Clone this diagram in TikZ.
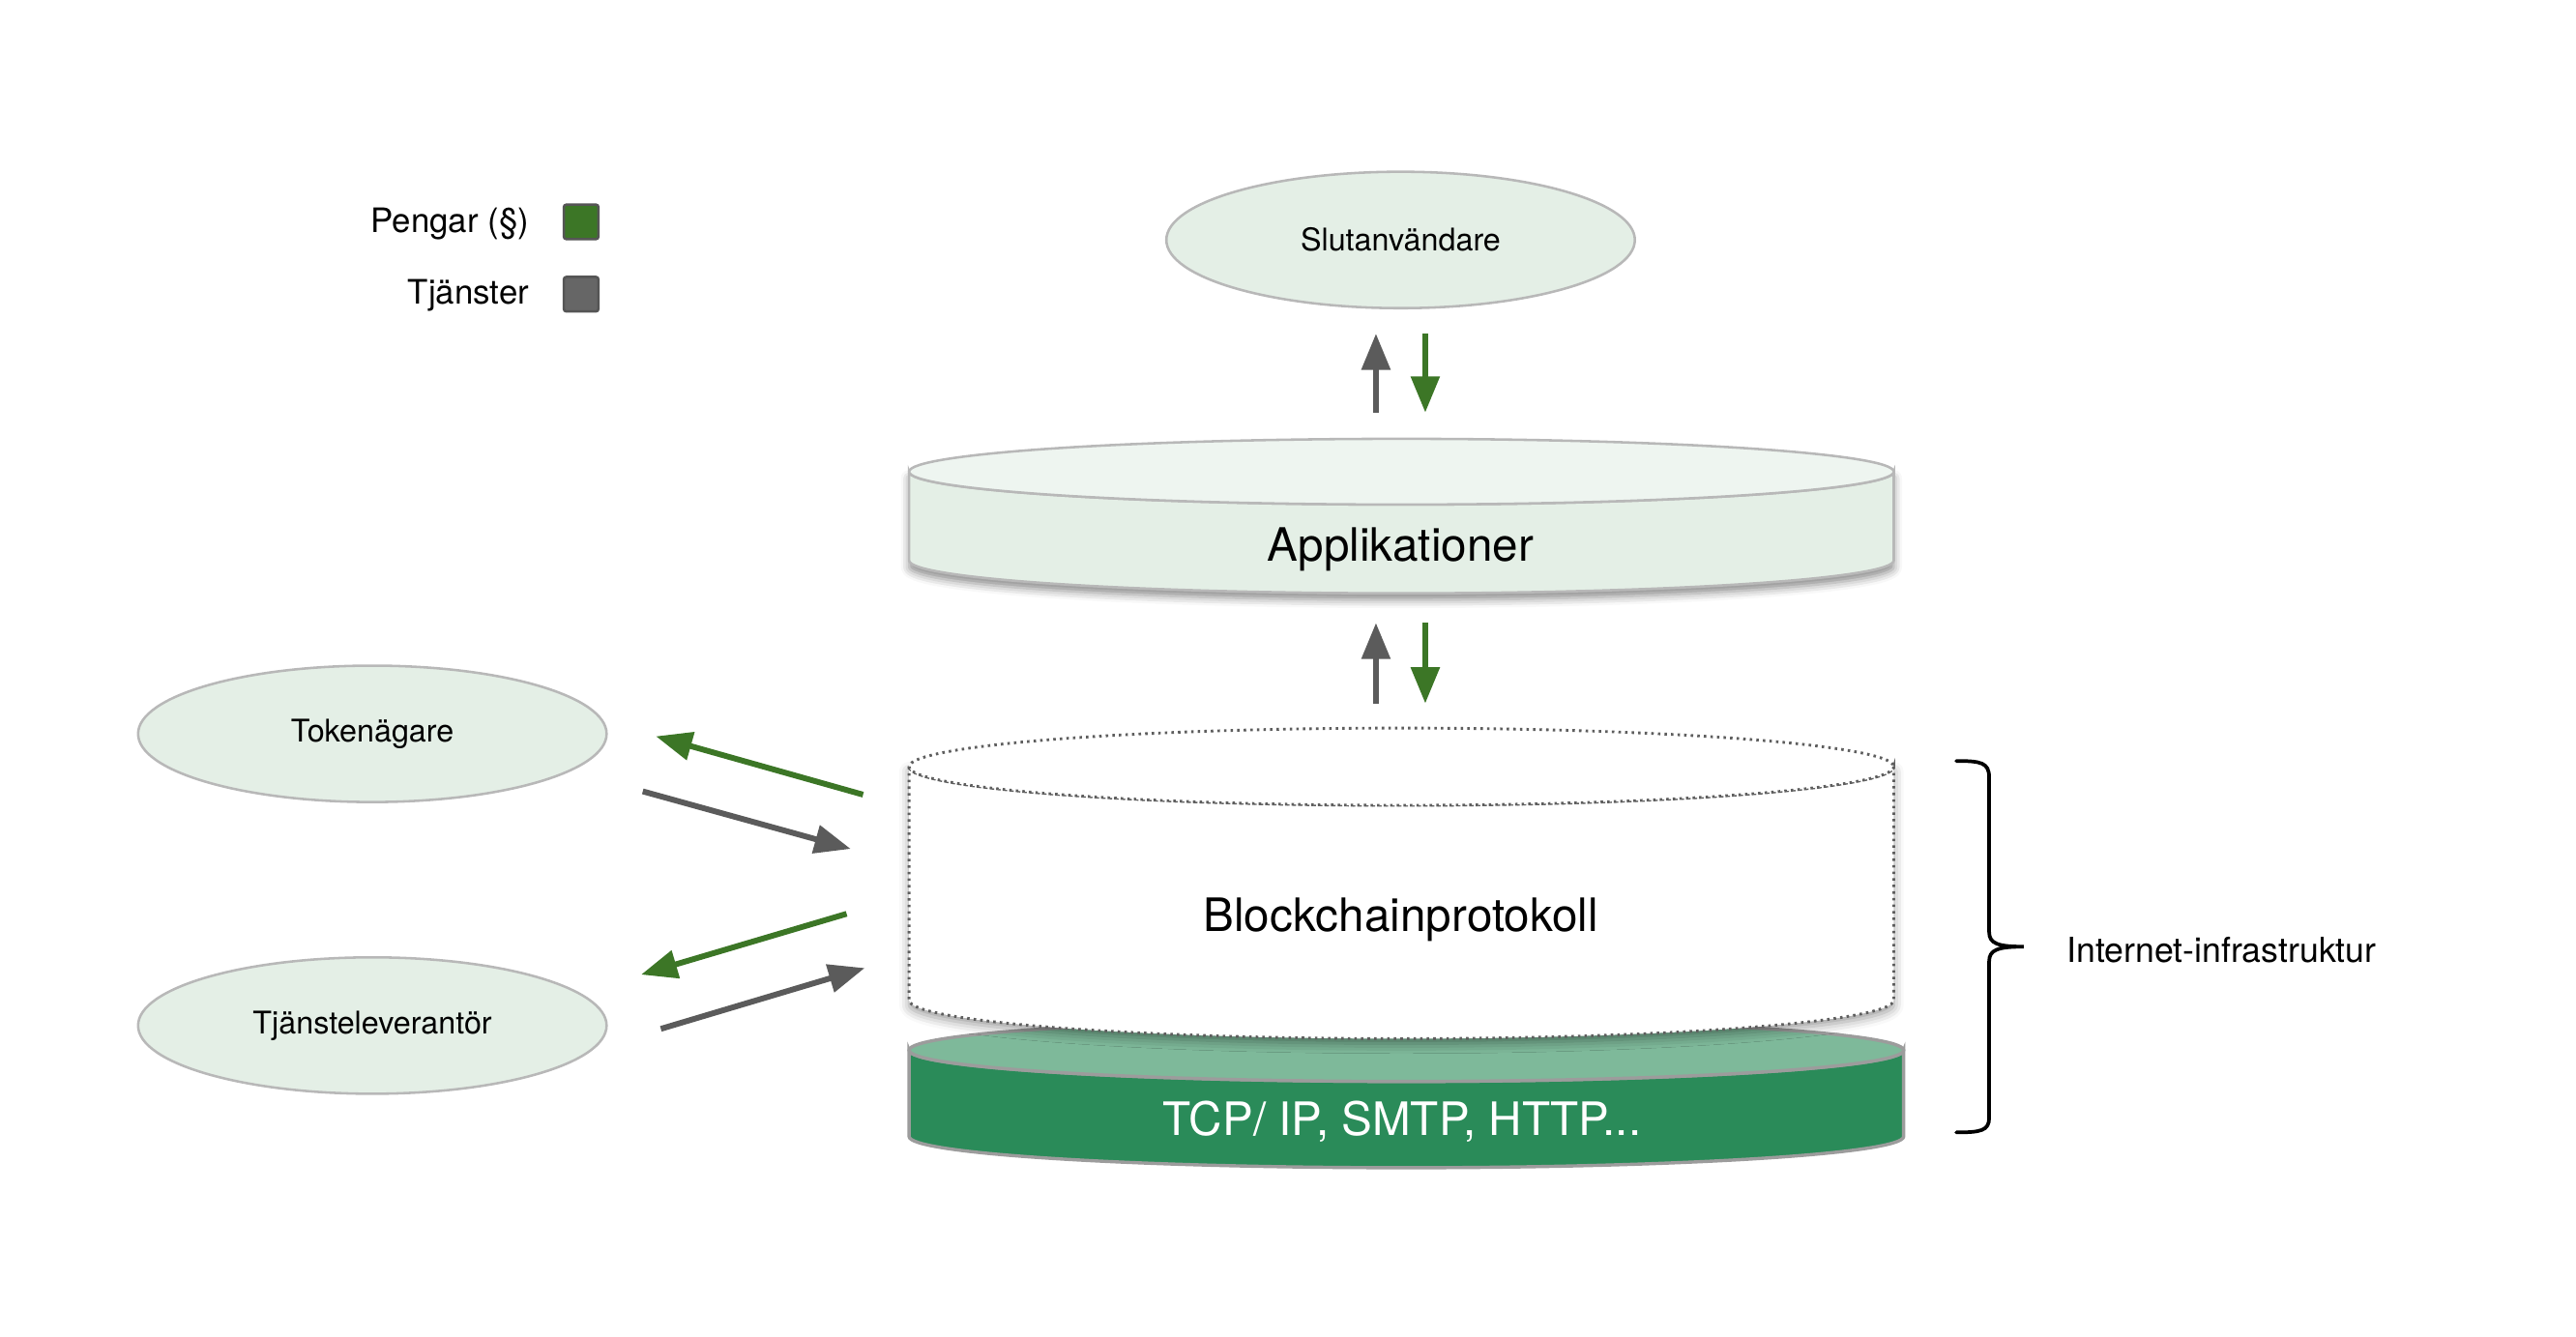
\documentclass[tikz,border=0pt]{standalone}
\usepackage{fontspec}
\setmainfont{TeX Gyre Heros}
\usetikzlibrary{shapes.geometric,arrows.meta,shadows.blur}
\definecolor{nodefill}{HTML}{E4EFE6}
\definecolor{nodeedge}{HTML}{B8B8B8}
\definecolor{apptop}{HTML}{EEF5F0}
\definecolor{moneygreen}{HTML}{3C7626}
\definecolor{servgray}{HTML}{5B5B5B}
\definecolor{legendgray}{HTML}{666666}
\definecolor{legendedge}{HTML}{555555}
\definecolor{tcpside}{HTML}{2A8B59}
\definecolor{tcptop}{HTML}{7EB99A}
\definecolor{tcpedge}{HTML}{9C9C9C}
\definecolor{dotedge}{HTML}{5E5E5E}
\begin{document}
\begin{tikzpicture}[x=1pt,y=-1pt,
  actor/.style={ellipse, fill=nodefill, draw=nodeedge, line width=1.5pt,
    minimum width=285pt, minimum height=83pt, inner sep=0pt,
    font=\fontsize{19}{23}\selectfont},
  layertext/.style={inner sep=0pt, font=\fontsize{28}{34}\selectfont},
  legendtext/.style={inner sep=0pt, anchor=east, font=\fontsize{20.5}{25}\selectfont},
  legendbox/.style={draw=legendedge, line width=1.5pt, rounded corners=1.5pt,
    minimum size=21pt, inner sep=0pt},
  moneyarrow/.style={draw=moneygreen, line width=3.5pt, -{Triangle[length=22pt,width=17pt]}},
  servicearrow/.style={draw=servgray, line width=3.5pt, -{Triangle[length=22pt,width=17pt]}},
  dotline/.style={draw=dotedge, line width=1.7pt, dash pattern=on 1.5pt off 2.5pt},
  appshadow/.style={blur shadow={shadow xshift=0pt, shadow yshift=-4pt,
    shadow blur radius=5pt, shadow opacity=45}},
  bcshadow/.style={blur shadow={shadow xshift=0pt, shadow yshift=-3pt,
    shadow blur radius=6pt, shadow opacity=40}},
]
\useasboundingbox (0,0) rectangle (1567,813);

% Legend
\node[legendtext] (pengar) at (322,136) {Pengar (§)};
\node[legendbox, fill=moneygreen] (pengarbox) at (353.5,135) {};
\node[legendtext] (tjanster) at (322,180) {Tjänster};
\node[legendbox, fill=legendgray] (tjansterbox) at (353.5,179) {};

% Actors
\node[actor] (slut) at (852,146) {Slutanvändare};
\node[actor] (token) at (226.5,446.5) {Tokenägare};
\node[actor] (tjlev) at (226.5,624) {Tjänsteleverantör};

% TCP layer
\path[fill=tcpside, draw=tcpedge, line width=2pt]
  (553,639) -- (553,691.5) arc[start angle=180, end angle=0, x radius=302.5, y radius=19]
  -- (1158,639) arc[start angle=0, end angle=180, x radius=302.5, y radius=19] -- cycle;
\draw[fill=tcptop, draw=tcpedge, line width=2pt] (855.5,639) ellipse[x radius=302.5, y radius=19];
\node[layertext, text=white] (tcp) at (853,682.5) {TCP/ IP, SMTP, HTTP...};

% Blockchain layer
\path[fill=white, dotline, bcshadow]
  (553,466.5) -- (553,608.5) arc[start angle=180, end angle=0, x radius=299.5, y radius=23.5]
  -- (1152,466.5) arc[start angle=0, end angle=180, x radius=299.5, y radius=23.5] -- cycle;
\draw[fill=white, dotline] (852.5,466.5) ellipse[x radius=299.5, y radius=23.5];
\node[layertext] (bc) at (852,559.5) {Blockchainprotokoll};

% Applications layer
\path[fill=nodefill, draw=nodeedge, line width=1.5pt, appshadow]
  (553,287) -- (553,341) arc[start angle=180, end angle=0, x radius=299.5, y radius=20]
  -- (1152,287) arc[start angle=0, end angle=180, x radius=299.5, y radius=20] -- cycle;
\draw[fill=apptop, draw=nodeedge, line width=1.5pt] (852.5,287) ellipse[x radius=299.5, y radius=20];
\node[layertext] (app) at (852,334.5) {Applikationer};

% Vertical arrows
\coordinate (a1s) at (837,251);  \coordinate (a1e) at (837,203);
\coordinate (a2s) at (867,203);  \coordinate (a2e) at (867,251);
\coordinate (a3s) at (837,428);  \coordinate (a3e) at (837,379);
\coordinate (a4s) at (867,379);  \coordinate (a4e) at (867,428);
\draw[servicearrow] (a1s) -- (a1e);
\draw[moneyarrow] (a2s) -- (a2e);
\draw[servicearrow] (a3s) -- (a3e);
\draw[moneyarrow] (a4s) -- (a4e);

% Side arrows
\coordinate (g1s) at (525,483.5); \coordinate (g1e) at (399,448);
\coordinate (s1s) at (391,481.5); \coordinate (s1e) at (517.5,516.5);
\coordinate (g2s) at (515,556);   \coordinate (g2e) at (390,593);
\coordinate (s2s) at (402,626);   \coordinate (s2e) at (526,589);
\draw[moneyarrow] (g1s) -- (g1e);
\draw[servicearrow] (s1s) -- (s1e);
\draw[moneyarrow] (g2s) -- (g2e);
\draw[servicearrow] (s2s) -- (s2e);

% Brace
\coordinate (bt) at (1190,463);
\coordinate (bm) at (1231,576);
\coordinate (bb) at (1190,689);
\draw[line width=2.2pt, line cap=round]
  (bt) .. controls (1205,463) and (1210,464) .. (1210,473) -- (1210,567)
  .. controls (1210,574) and (1215,576) .. (bm)
  .. controls (1215,576) and (1210,578) .. (1210,585) -- (1210,680)
  .. controls (1210,688) and (1205,689) .. (bb);
\node[inner sep=0pt, anchor=west, font=\fontsize{21}{25}\selectfont] (infra) at (1257,578) {Internet-infrastruktur};
\end{tikzpicture}
\end{document}
